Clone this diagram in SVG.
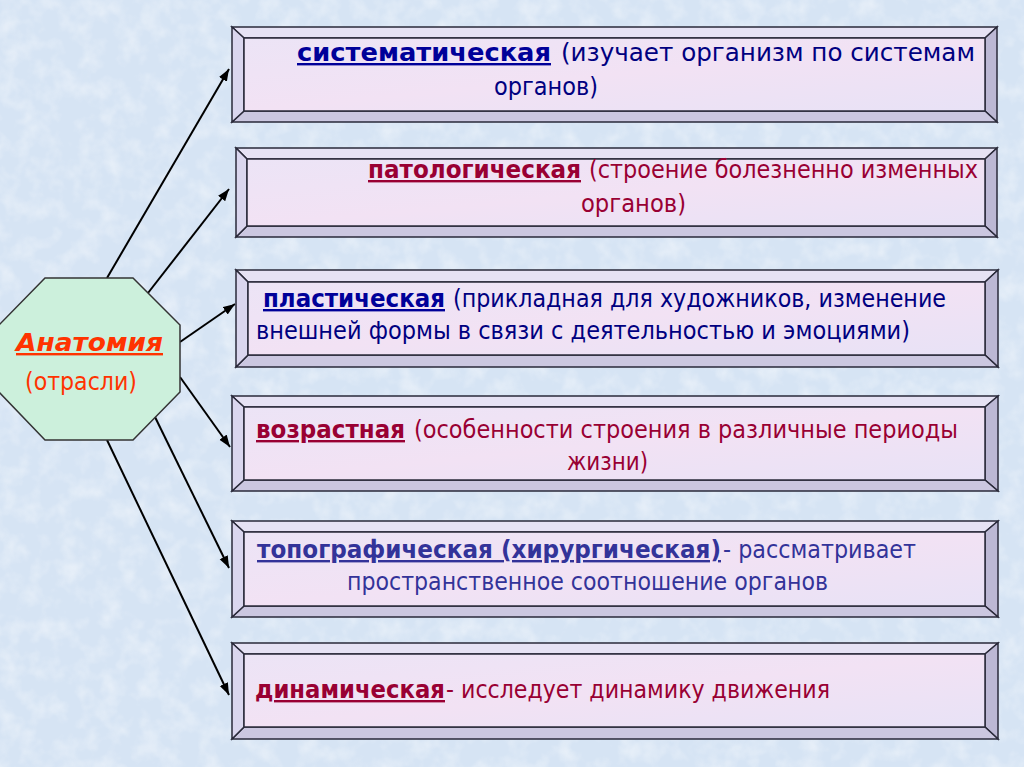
<svg xmlns="http://www.w3.org/2000/svg" width="1024" height="767" viewBox="0 0 1024 767">
<style>
.frame{stroke:#2a2a3a;stroke-width:1.5;stroke-linejoin:miter}
.face{fill:url(#faceGrad)}
.bt{fill:#e6e2f4}
.bl{fill:#dad6ee}
.bb{fill:#cbc7e0}
.br{fill:#bcb8d4}
.conn{stroke:#000;stroke-width:2;fill:none;marker-end:url(#arrow)}
.t{font-family:"DejaVu Sans","Liberation Sans",sans-serif;font-size:24px}
.blue{fill:#000080}
.blue1{fill:#000099}
.blue2{fill:#333399}
.red{fill:#990033}
.b{font-weight:bold;text-decoration:underline}
.oct{fill:#ccf0dc;stroke:#333;stroke-width:1.5}
.orange{fill:#ff3300}
</style>
<defs>
<marker id="arrow" markerUnits="userSpaceOnUse" markerWidth="13" markerHeight="10" refX="12" refY="4.5" orient="auto">
<path d="M0,0 L12,4.5 L0,9 z" fill="#000"/>
</marker>
<linearGradient id="faceGrad" x1="0" y1="0" x2="1" y2="1">
<stop offset="0" stop-color="#ece4f6"/>
<stop offset="0.5" stop-color="#f2e2f4"/>
<stop offset="1" stop-color="#e8e2f6"/>
</linearGradient>
<filter id="tex" x="0" y="0" width="100%" height="100%">
<feTurbulence type="fractalNoise" baseFrequency="0.05" numOctaves="3" seed="3"/>
<feColorMatrix type="matrix" values="0 0 0 0 1  0 0 0 0 1  0 0 0 0 1  0 0 0 1.2 -0.5"/>
</filter>
</defs>
<rect x="0" y="0" width="1024" height="767" fill="#d6e4f4"/>
<rect x="0" y="0" width="1024" height="767" filter="url(#tex)" opacity="0.7"/>

<g id="connectors">
<line class="conn" x1="107" y1="278" x2="229" y2="69"/>
<line class="conn" x1="148" y1="293" x2="229" y2="189"/>
<line class="conn" x1="180" y1="342" x2="235" y2="304"/>
<line class="conn" x1="180" y1="377" x2="230" y2="447"/>
<line class="conn" x1="155" y1="417" x2="229" y2="568"/>
<line class="conn" x1="107" y1="440" x2="229" y2="695"/>
</g>

<g id="anatomy">
<polygon class="oct" points="45,278 133,278 180,325 180,392 133,440 45,440 -1,392 -1,325"/>
<text class="t orange" x="16" y="351" font-size="26" font-weight="bold" font-style="italic" text-decoration="underline" textLength="147" lengthAdjust="spacingAndGlyphs">Анатомия</text>
<text class="t orange" x="25" y="390" font-size="23" textLength="112" lengthAdjust="spacingAndGlyphs">(отрасли)</text>
</g>

<g id="box-systematic">
<polygon class="frame bt" points="232,27 997,27 985,38 244,38"/>
<polygon class="frame br" points="997,27 997,122 985,111 985,38"/>
<polygon class="frame bb" points="232,122 997,122 985,111 244,111"/>
<polygon class="frame bl" points="232,27 244,38 244,111 232,122"/>
<rect class="frame face" x="244" y="38" width="741" height="73"/>
<text class="t b blue1" x="297" y="61" textLength="254" lengthAdjust="spacingAndGlyphs">систематическая</text>
<text class="t blue" x="561" y="61" textLength="414" lengthAdjust="spacingAndGlyphs">(изучает организм по системам</text>
<text class="t blue" x="494" y="95" textLength="104" lengthAdjust="spacingAndGlyphs">органов)</text>
</g>

<g id="box-pathological">
<polygon class="frame bt" points="236,148 997,148 985,159 247,159"/>
<polygon class="frame br" points="997,148 997,237 985,226 985,159"/>
<polygon class="frame bb" points="236,237 997,237 985,226 247,226"/>
<polygon class="frame bl" points="236,148 247,159 247,226 236,237"/>
<rect class="frame face" x="247" y="159" width="738" height="67"/>
<text class="t b red" x="368" y="178" textLength="213" lengthAdjust="spacingAndGlyphs">патологическая</text>
<text class="t red" x="589" y="178" textLength="389" lengthAdjust="spacingAndGlyphs">(строение болезненно изменных</text>
<text class="t red" x="581" y="212" textLength="105" lengthAdjust="spacingAndGlyphs">органов)</text>
</g>

<g id="box-plastic">
<polygon class="frame bt" points="236,270 998,270 985,282 248,282"/>
<polygon class="frame br" points="998,270 998,367 985,355 985,282"/>
<polygon class="frame bb" points="236,367 998,367 985,355 248,355"/>
<polygon class="frame bl" points="236,270 248,282 248,355 236,367"/>
<rect class="frame face" x="248" y="282" width="737" height="73"/>
<text class="t b blue1" x="263" y="307" textLength="182" lengthAdjust="spacingAndGlyphs">пластическая</text>
<text class="t blue" x="453" y="307" textLength="493" lengthAdjust="spacingAndGlyphs">(прикладная для художников, изменение</text>
<text class="t blue" x="256" y="339" textLength="654" lengthAdjust="spacingAndGlyphs">внешней формы в связи с деятельностью и эмоциями)</text>
</g>

<g id="box-age">
<polygon class="frame bt" points="232,396 998,396 985,407 244,407"/>
<polygon class="frame br" points="998,396 998,491 985,480 985,407"/>
<polygon class="frame bb" points="232,491 998,491 985,480 244,480"/>
<polygon class="frame bl" points="232,396 244,407 244,480 232,491"/>
<rect class="frame face" x="244" y="407" width="741" height="73"/>
<text class="t b red" x="256" y="438" textLength="149" lengthAdjust="spacingAndGlyphs">возрастная</text>
<text class="t red" x="414" y="438" textLength="544" lengthAdjust="spacingAndGlyphs">(особенности строения в различные периоды</text>
<text class="t red" x="567" y="470" textLength="81" lengthAdjust="spacingAndGlyphs">жизни)</text>
</g>

<g id="box-topographic">
<polygon class="frame bt" points="232,521 998,521 985,532 244,532"/>
<polygon class="frame br" points="998,521 998,617 985,606 985,532"/>
<polygon class="frame bb" points="232,617 998,617 985,606 244,606"/>
<polygon class="frame bl" points="232,521 244,532 244,606 232,617"/>
<rect class="frame face" x="244" y="532" width="741" height="74"/>
<text class="t b blue2" x="257" y="558" textLength="464" lengthAdjust="spacingAndGlyphs">топографическая (хирургическая)</text>
<text class="t blue2" x="723" y="558" textLength="193" lengthAdjust="spacingAndGlyphs">- рассматривает</text>
<text class="t blue2" x="347" y="590" textLength="481" lengthAdjust="spacingAndGlyphs">пространственное соотношение органов</text>
</g>

<g id="box-dynamic">
<polygon class="frame bt" points="232,643 998,643 985,654 244,654"/>
<polygon class="frame br" points="998,643 998,739 985,727 985,654"/>
<polygon class="frame bb" points="232,739 998,739 985,727 244,727"/>
<polygon class="frame bl" points="232,643 244,654 244,727 232,739"/>
<rect class="frame face" x="244" y="654" width="741" height="73"/>
<text class="t b red" x="255" y="698" textLength="190" lengthAdjust="spacingAndGlyphs">динамическая</text>
<text class="t red" x="446" y="698" textLength="384" lengthAdjust="spacingAndGlyphs">- исследует динамику движения</text>
</g>
</svg>
